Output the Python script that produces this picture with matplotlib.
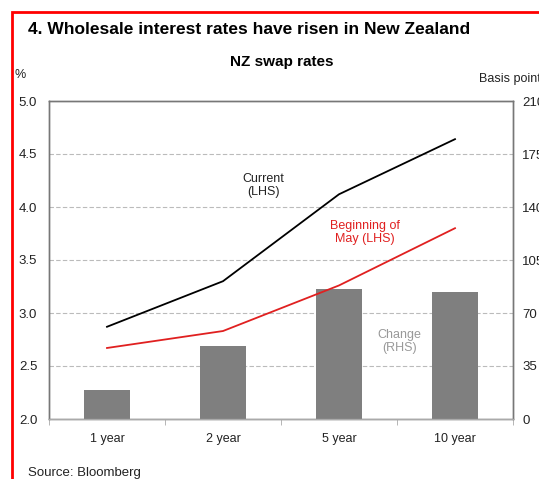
import matplotlib
matplotlib.use("Agg")
import numpy as np
import matplotlib.pyplot as plt
from matplotlib.patches import Rectangle

plt.rcParams['font.family'] = ['Liberation Sans', 'DejaVu Sans']

# NZ swap rates by tenor
tenors = ['1 year', '2 year', '5 year', '10 year']
current = [2.87, 3.30, 4.12, 4.64]        # %, LHS
beginning_may = [2.67, 2.83, 3.26, 3.80]  # %, LHS
change_bp = [19, 48, 86, 84]              # basis points, RHS

left_ticks = [2.0, 2.5, 3.0, 3.5, 4.0, 4.5, 5.0]
right_ticks = [0, 35, 70, 105, 140, 175, 210]

fig = plt.figure(figsize=(5.39, 4.79), dpi=100)
ax = fig.add_axes([49/539, 1 - 419/479, 464/539, 318/479])
ax2 = ax.twinx()

x = np.arange(len(tenors))

# bars on the right axis, lines drawn above them
ax2.bar(x, change_bp, width=0.4, color='#7f7f7f', zorder=2)
ax2.set_ylim(0, 210)
ax2.set_yticks(right_ticks)
ax2.tick_params(axis='y', length=0, labelsize=9.5, pad=6.5, labelcolor='#222222')

ax.set_zorder(ax2.get_zorder() + 1)
ax.patch.set_visible(False)
ax.plot(x, current, color='black', lw=1.3)
ax.plot(x, beginning_may, color='#e02020', lw=1.3)
ax.set_ylim(2.0, 5.0)
ax.set_xlim(-0.5, 3.5)
ax.set_yticks(left_ticks)
ax.set_yticklabels([f'{v:.1f}' for v in left_ticks])
ax.tick_params(axis='y', length=0, labelsize=9.5, pad=8.5, labelcolor='#222222')

# dashed gridlines behind everything
for v in left_ticks[1:-1]:
    ax2.axhline((v - 2.0) / 3.0 * 210, color='#bbbbbb', lw=0.8, ls=(0, (4, 2)), zorder=1)

ax.set_xticks(x)
ax.set_xticklabels(tenors)
ax.set_xticks(np.arange(-0.5, 3.6, 1.0), minor=True)
ax.tick_params(axis='x', which='major', length=0, labelsize=9, pad=10, labelcolor='#222222')
ax.tick_params(axis='x', which='minor', length=4, color='#aaaaaa', direction='out')

for a in (ax, ax2):
    for s in a.spines.values():
        s.set_color('#777777')
        s.set_linewidth(1.0)
ax.spines['bottom'].set_color('#aaaaaa')

ax.text(1.35, 4.2, 'Current\n(LHS)', ha='center', va='center', fontsize=9, color='#222222', linespacing=1.15)
ax.text(2.22, 3.76, 'Beginning of\nMay (LHS)', ha='center', va='center', fontsize=9, color='#e02020', linespacing=1.15)
ax.text(2.52, 2.73, 'Change\n(RHS)', ha='center', va='center', fontsize=9, color='#999999', linespacing=1.15)

fig.text(28/539, 1 - 29/479, '4. Wholesale interest rates have risen in New Zealand',
         fontsize=12.5, fontweight='bold', ha='left', va='center')
fig.text(282/539, 1 - 62/479, 'NZ swap rates', fontsize=11, fontweight='bold', ha='center', va='center')
fig.text(14/539, 1 - 75/479, '%', fontsize=9, color='#222222', ha='left', va='center')
fig.text(479/539, 1 - 79/479, 'Basis points', fontsize=9, color='#222222', ha='left', va='center')
fig.text(28/539, 1 - 473/479, 'Source: Bloomberg', fontsize=9.5, color='#222222', ha='left', va='center')

# red frame around the panel
fig.add_artist(Rectangle((12/539, -0.1), 1.0, 1 - 12/479 + 0.1, transform=fig.transFigure,
                         fill=False, edgecolor='#ff0000', lw=2))

fig.savefig('out.png', dpi=100)
